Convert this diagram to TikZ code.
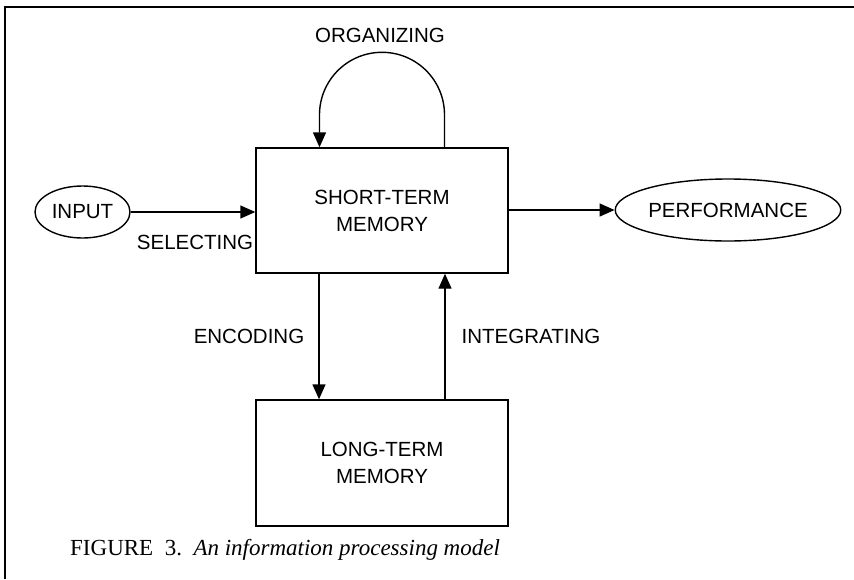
\documentclass[tikz,border=0pt]{standalone}
\usepackage{fontspec}
\setmainfont{Liberation Serif}
\newfontfamily\labelfont{Liberation Sans}
\usetikzlibrary{shapes.geometric,arrows.meta}
\begin{document}
\begin{tikzpicture}[x=1pt,y=-1pt,
  lbl/.style={font=\labelfont\fontsize{20.5}{23}\selectfont, inner sep=0pt},
  boxnode/.style={draw, line width=1.4pt, rectangle, minimum width=252pt, minimum height=125pt, align=center, lbl},
  ovalnode/.style={draw, line width=1.4pt, ellipse, inner sep=0pt, lbl},
  arr/.style={line width=1.4pt, -{Triangle[length=15pt,width=13pt]}},
  txt/.style={lbl}]
\useasboundingbox (0,0) rectangle (854,579);
% frame (cropped: left and top sides only)
\coordinate (fbl) at (5,579);
\coordinate (ftl) at (5,7);
\coordinate (ftr) at (854,7);
\draw[line width=2.4pt] (fbl) -- (ftl) -- (ftr);
% nodes
\node[boxnode] (stm) at (382,210.5) {SHORT-TERM\\[4pt]MEMORY};
\node[boxnode, minimum height=126pt] (ltm) at (382,463) {LONG-TERM\\[4pt]MEMORY};
\node[ovalnode, minimum width=95pt, minimum height=52pt] (input) at (82.5,212) {INPUT};
\node[ovalnode, minimum width=190pt, minimum height=62pt] (perf) at (728,210) {PERFORMANCE};
% connectors
\draw[arr] (input.east) -- (input.east -| stm.west);
\draw[arr] (stm.east |- perf.west) -- (perf.west);
\draw[arr] ([xshift=-63pt]stm.south) -- ([xshift=-63pt]ltm.north);
\draw[arr] ([xshift=63pt]ltm.north) -- ([xshift=63pt]stm.south);
\draw[arr] ([xshift=62.5pt]stm.north) -- ++(0pt,32.5pt) arc[start angle=0, end angle=180, radius=62.5pt] -- ([xshift=-62.5pt]stm.north);
% labels
\node[txt] (lsel) at (195,242) {SELECTING};
\node[txt] (lorg) at (380,35) {ORGANIZING};
\node[txt] (lenc) at (249,336) {ENCODING};
\node[txt] (lint) at (531,336) {INTEGRATING};
% caption
\node[anchor=base west, inner sep=0pt, font=\fontsize{23}{27}\selectfont] (cap) at (70,555) {FIGURE\ \ 3.\ \ \textit{An information processing model}};
\end{tikzpicture}
\end{document}
